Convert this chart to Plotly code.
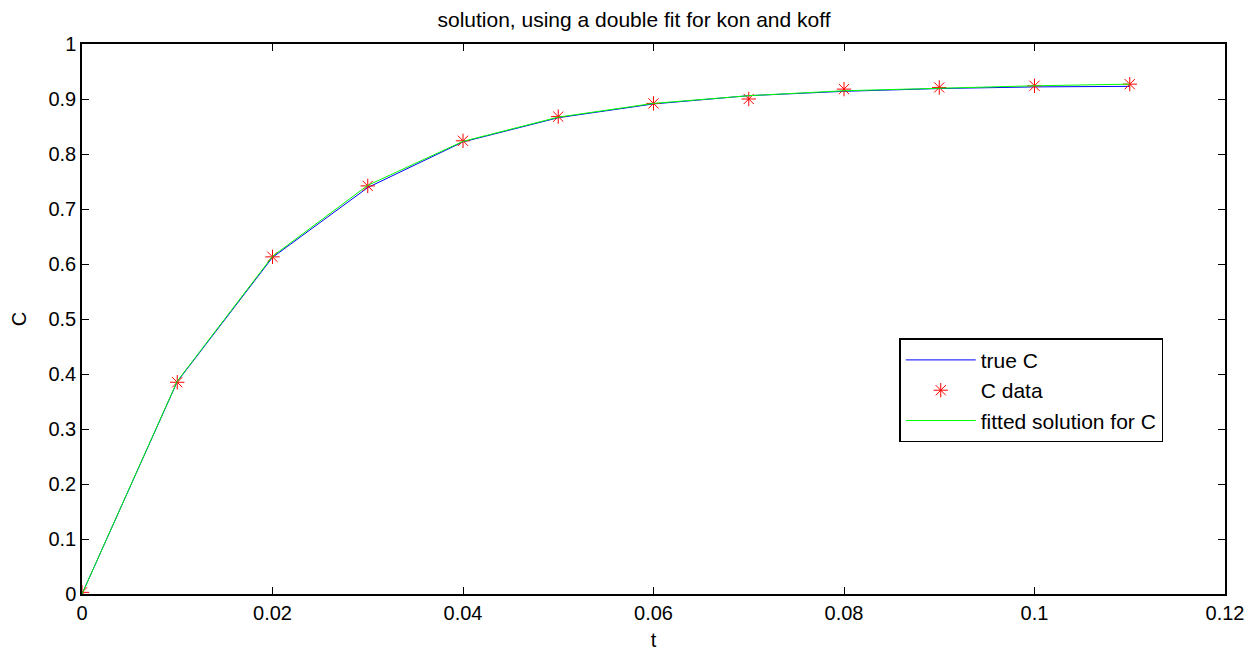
import plotly.graph_objects as go

t = [0, 0.01, 0.02, 0.03, 0.04, 0.05, 0.06, 0.07, 0.08, 0.09, 0.10, 0.11]
true_c = [0, 0.386, 0.612, 0.739, 0.822, 0.866, 0.891, 0.906, 0.914, 0.919, 0.922, 0.923]
c_data = [0.003, 0.385, 0.613, 0.742, 0.824, 0.868, 0.892, 0.900, 0.918, 0.921, 0.924, 0.927]
fitted_c = [0, 0.387, 0.614, 0.743, 0.823, 0.867, 0.892, 0.906, 0.915, 0.920, 0.924, 0.927]

x_ticks = [0, 0.02, 0.04, 0.06, 0.08, 0.1, 0.12]
x_tick_labels = ["0", "0.02", "0.04", "0.06", "0.08", "0.1", "0.12"]
y_ticks = [0, 0.1, 0.2, 0.3, 0.4, 0.5, 0.6, 0.7, 0.8, 0.9, 1]
y_tick_labels = ["0", "0.1", "0.2", "0.3", "0.4", "0.5", "0.6", "0.7", "0.8", "0.9", "1"]

font = "Liberation Sans, Arial, sans-serif"

fig = go.Figure()
fig.add_trace(go.Scatter(x=t, y=true_c, mode="lines", name="true C",
                         line=dict(color="#0000ff", width=1)))
fig.add_trace(go.Scatter(x=t, y=c_data, mode="markers", name="C data",
                         marker=dict(symbol="asterisk-open", size=12,
                                     color="#ff0000", line=dict(color="#ff0000", width=1))))
fig.add_trace(go.Scatter(x=t, y=fitted_c, mode="lines", name="fitted solution for C",
                         line=dict(color="#00ff00", width=1)))

axis_common = dict(showline=True, linecolor="black", linewidth=1.5, mirror="ticks",
                   ticks="inside", ticklen=7, tickcolor="black", showgrid=False,
                   zeroline=False, automargin=False,
                   tickfont=dict(family=font, size=20, color="black"))

# page body has an 8px default margin, so the figure is offset by 8px
fig.update_layout(
    width=1252, height=646,
    margin=dict(l=74, r=35, t=36, b=60),
    paper_bgcolor="white", plot_bgcolor="white",
    font=dict(family=font, size=20, color="black"),
    title=dict(text="solution, using a double fit for kon and koff", x=0.5, xanchor="center",
               y=1 - 12 / 646, yanchor="middle", font=dict(family=font, size=21, color="black")),
    xaxis=dict(range=[0, 0.12], tickvals=x_ticks, ticktext=x_tick_labels,
               title=dict(text="t", standoff=10, font=dict(family=font, size=20)), **axis_common),
    yaxis=dict(range=[0, 1], tickvals=y_ticks, ticktext=y_tick_labels,
               title=dict(text="C", standoff=22, font=dict(family=font, size=20)), **axis_common),
    legend=dict(x=0.715, y=0.465, xanchor="left", yanchor="top",
                bordercolor="black", borderwidth=1.5, bgcolor="white",
                font=dict(family=font, size=21, color="black"),
                tracegroupgap=0, itemwidth=70),
    showlegend=True,
)

fig.write_html("out.html")
